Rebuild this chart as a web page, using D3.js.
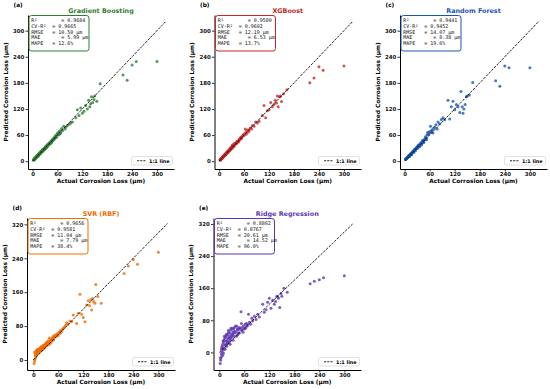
<!DOCTYPE html>
<html>
<head>
<meta charset="utf-8">
<script src="https://cdn.jsdelivr.net/npm/d3@7"></script>
<style>
  body { margin: 0; background: #fff; }
  text { font-family: "DejaVu Sans", sans-serif; }
</style>
</head>
<body>
<svg id="chart" width="550" height="389"></svg>
<script>
// shared test set (actual corrosion loss, µm)
const actual = [
  2, 3, 4, 5, 5, 6, 7, 8, 8, 9,
  10, 10, 11, 12, 13, 14, 15, 15, 16, 17,
  18, 19, 20, 20, 21, 22, 23, 24, 25, 26,
  27, 28, 29, 30, 31, 32, 33, 34, 35, 36,
  38, 40, 42, 44, 45, 47, 48, 50, 52, 54,
  55, 57, 58, 60, 62, 63, 65, 66, 68, 70,
  72, 75, 78, 80, 84, 88, 92, 96, 104, 108,
  112, 116, 120, 124, 128, 132, 135, 138, 140, 142,
  145, 148, 150, 155, 163, 218, 228, 240, 250, 300,
  3, 6, 9, 12, 14, 17, 19, 22, 24, 26,
  28, 31, 33, 36, 39, 41, 43, 46, 49, 53
];

const predGB = [
  3, 2, 5, 4, 7, 6, 8, 7, 10, 9,
  12, 9, 13, 11, 15, 13, 17, 14, 18, 16,
  20, 18, 22, 19, 23, 21, 25, 23, 27, 24,
  29, 27, 30, 28, 33, 30, 35, 32, 37, 34,
  40, 38, 44, 41, 43, 49, 46, 52, 50, 57,
  53, 60, 55, 64, 60, 67, 62, 70, 65, 75,
  70, 80, 74, 78, 82, 85, 88, 90, 100, 118,
  105, 122, 110, 115, 128, 120, 140, 125, 132, 148,
  135, 142, 150, 138, 178, 198, 186, 221, 229, 229,
  4, 5, 10, 13, 12, 18, 18, 23, 22, 27,
  27, 32, 31, 37, 38, 42, 41, 47, 48, 54
];

const predXGB = [
  4, 3, 3, 6, 5, 7, 6, 9, 8, 10,
  11, 12, 10, 13, 14, 13, 16, 17, 15, 19,
  17, 21, 19, 22, 20, 24, 22, 26, 24, 28,
  26, 30, 31, 33, 30, 37, 34, 36, 33, 40,
  37, 42, 41, 45, 44, 46, 50, 49, 55, 53,
  56, 58, 61, 59, 64, 74, 62, 70, 66, 72,
  69, 76, 74, 82, 80, 90, 88, 92, 105, 128,
  100, 116, 118, 135, 125, 130, 140, 134, 150, 125,
  148, 150, 137, 155, 164, 180, 191, 217, 209, 219,
  2, 7, 8, 14, 13, 16, 20, 21, 25, 25,
  30, 29, 35, 35, 41, 40, 45, 44, 51, 52
];

const predRF = [
  5, 4, 6, 6, 7, 8, 9, 10, 9, 11,
  12, 13, 12, 14, 15, 16, 17, 16, 18, 19,
  20, 21, 22, 21, 23, 24, 25, 26, 27, 28,
  29, 30, 31, 32, 33, 35, 34, 37, 38, 36,
  40, 43, 41, 46, 45, 48, 50, 56, 53, 60,
  66, 62, 64, 68, 80, 67, 70, 72, 65, 76,
  78, 84, 74, 90, 86, 96, 100, 95, 140, 97,
  125, 138, 118, 130, 125, 112, 160, 125, 110, 120,
  130, 148, 150, 152, 181, 185, 172, 219, 215, 215,
  5, 7, 10, 11, 16, 15, 21, 20, 27, 24,
  31, 29, 36, 33, 42, 37, 48, 43, 52, 49
];

const predSVR = [
  -8, -3, 2, 10, 15, 6, 20, 12, 22, 14,
  18, 25, 20, 16, 24, 22, 28, 20, 26, 24,
  30, 25, 27, 32, 28, 30, 26, 35, 32, 31,
  36, 33, 38, 35, 40, 37, 42, 36, 45, 40,
  52, 44, 48, 50, 46, 55, 52, 58, 54, 56,
  60, 57, 62, 58, 64, 66, 63, 70, 68, 72,
  75, 78, 82, 88, 85, 92, 90, 106, 86, 110,
  155, 108, 100, 90, 130, 140, 128, 142, 118, 145,
  138, 134, 178, 150, 134, 204, 222, 237, 226, 254,
  18, 12, 24, 20, 18, 27, 22, 30, 26, 33,
  29, 38, 34, 40, 37, 46, 41, 50, 47, 56
];

const predRidge = [
  -28, -20, -12, -5, 8, 0, 15, -8, 20, 5,
  25, -2, 30, 10, 35, 18, 20, 38, 28, 42,
  15, 30, 45, 22, 36, 50, 25, 40, 48, 30,
  35, 55, 42, 38, 60, 45, 50, 58, 40, 62,
  48, 52, 65, 44, 56, 60, 48, 58, 101, 55,
  62, 50, 66, 58, 70, 60, 72, 65, 68, 95,
  75, 70, 85, 78, 90, 82, 95, 88, 120, 100,
  106, 125, 135, 110, 130, 120, 127, 140, 138, 135,
  112, 147, 140, 160, 150, 171, 177, 181, 186, 191,
  -15, 12, 28, 40, 8, 45, 25, 55, 35, 20,
  60, 45, 30, 52, 66, 40, 58, 48, 62, 72
];

const modelNames = ["Gradient Boosting", "XGBoost", "Random Forest", "SVR (RBF)", "Ridge Regression"];
const panelTags = ["(a)", "(b)", "(c)", "(d)", "(e)"];
const r2 = ["0.9684", "0.9580", "0.9441", "0.9656", "0.8802"];
const cvR2 = ["0.9665", "0.9602", "0.9452", "0.9581", "0.8767"];
const rmse = ["10.50", "12.19", "14.07", "11.04", "20.61"];
const mae = ["5.99", "6.53", "8.38", "7.79", "14.52"];
const mape = ["12.6", "13.7", "19.6", "38.4", "96.0"];
const xTicks = [0, 60, 120, 180, 240, 300];
const yTicksTop = [0, 60, 120, 180, 240, 300];
const yTicksBottom = [0, 80, 160, 240, 320];
const lineEnds = [0, 322];

const preds = [predGB, predXGB, predRF, predSVR, predRidge];
const colors = ["#2e7d32", "#c62828", "#1a56b0", "#ef6c00", "#5e35b1"];

// axes boxes and limits
const boxes = [
  {left: 28, right: 174, top: 15, bottom: 169, xd: [-11, 341], yd: [-18, 336], yt: yTicksTop},
  {left: 214.5, right: 361, top: 15, bottom: 169, xd: [-11, 341], yd: [-18, 336], yt: yTicksTop},
  {left: 400, right: 547, top: 15, bottom: 169, xd: [-11, 341], yd: [-18, 336], yt: yTicksTop},
  {left: 27, right: 175, top: 218, bottom: 370, xd: [-15, 340], yd: [-23.6, 335], yt: yTicksBottom},
  {left: 213.5, right: 361, top: 218, bottom: 370, xd: [-14, 340], yd: [-44, 335], yt: yTicksBottom}
];

const svg = d3.select("#chart");

function drawPanel(i) {
  const b = boxes[i];
  const color = colors[i];
  const x = d3.scaleLinear().domain(b.xd).range([b.left, b.right]);
  const y = d3.scaleLinear().domain(b.yd).range([b.bottom, b.top]);
  const g = svg.append("g");

  // axes
  const xa = g.append("g")
    .attr("transform", `translate(0,${b.bottom})`)
    .call(d3.axisBottom(x).tickValues(xTicks).tickSize(2.5).tickSizeOuter(0).tickPadding(1));
  const ya = g.append("g")
    .attr("transform", `translate(${b.left},0)`)
    .call(d3.axisLeft(y).tickValues(b.yt).tickSize(2.5).tickSizeOuter(0).tickPadding(1.2));
  [xa, ya].forEach(a => {
    a.selectAll("path").attr("stroke", "#000").attr("stroke-width", 1);
    a.selectAll("line").attr("stroke", "#000").attr("stroke-width", 0.8);
    a.selectAll("text")
      .style("font-size", "5.4px")
      .style("font-weight", "bold")
      .attr("fill", "#111");
  });

  // points
  const pts = actual.map((a, k) => [a, preds[i][k]]);
  g.append("g").selectAll("circle")
    .data(pts)
    .join("circle")
    .attr("cx", d => x(d[0]))
    .attr("cy", d => y(d[1]))
    .attr("r", 1.5)
    .attr("fill", color)
    .attr("fill-opacity", 0.8);

  // 1:1 line
  g.append("line")
    .attr("x1", x(lineEnds[0])).attr("y1", y(lineEnds[0]))
    .attr("x2", x(lineEnds[1])).attr("y2", y(lineEnds[1]))
    .attr("stroke", "#000")
    .attr("stroke-width", 0.85)
    .attr("stroke-dasharray", "2.6,1.2");

  // titles
  g.append("text")
    .attr("x", (b.left + b.right) / 2)
    .attr("y", b.top - 2.5)
    .attr("text-anchor", "middle")
    .style("font-size", "6.4px")
    .style("font-weight", "bold")
    .attr("fill", color)
    .text(modelNames[i]);

  g.append("text")
    .attr("x", b.left - 14.5)
    .attr("y", b.top - 8)
    .style("font-size", "5.8px")
    .style("font-weight", "bold")
    .text(panelTags[i]);

  g.append("text")
    .attr("x", (b.left + b.right) / 2)
    .attr("y", b.bottom + 14)
    .attr("text-anchor", "middle")
    .style("font-size", "5.8px")
    .style("font-weight", "bold")
    .text("Actual Corrosion Loss (µm)");

  g.append("text")
    .attr("transform", `translate(${b.left - 20.5},${(b.top + b.bottom) / 2}) rotate(-90)`)
    .attr("text-anchor", "middle")
    .style("font-size", "5.8px")
    .style("font-weight", "bold")
    .text("Predicted Corrosion Loss (µm)");

  // metrics box
  const bx = b.left + 1, by = b.top + 0.5;
  g.append("rect")
    .attr("x", bx).attr("y", by)
    .attr("width", 60).attr("height", 35.5)
    .attr("rx", 2.5)
    .attr("fill", "#fff")
    .attr("fill-opacity", 0.92)
    .attr("stroke", color)
    .attr("stroke-width", 1);

  const lines = [
    `R²        = ${r2[i]}`,
    `CV-R²  = ${cvR2[i]}`,
    `RMSE   = ${rmse[i]} µm`,
    `MAE       = ${mae[i]} µm`,
    `MAPE   = ${mape[i]}%`
  ];
  lines.forEach((s, k) => {
    g.append("text")
      .attr("x", bx + 2.2)
      .attr("y", by + 6.9 + k * 5.65)
      .style("font-family", "'DejaVu Sans Mono', monospace")
      .style("font-size", "5px")
      .style("white-space", "pre")
      .attr("fill", "#111")
      .text(s);
  });

  // legend
  const lx = b.right - 42.5, ly = b.bottom - 12.5;
  g.append("rect")
    .attr("x", lx).attr("y", ly)
    .attr("width", 41).attr("height", 8.5)
    .attr("rx", 1.5)
    .attr("fill", "#fff")
    .attr("stroke", "#ccc")
    .attr("stroke-width", 0.6);
  g.append("line")
    .attr("x1", lx + 5.5).attr("x2", lx + 14)
    .attr("y1", ly + 4.25).attr("y2", ly + 4.25)
    .attr("stroke", "#000")
    .attr("stroke-width", 0.85)
    .attr("stroke-dasharray", "2.2,1");
  g.append("text")
    .attr("x", lx + 17.5)
    .attr("y", ly + 6)
    .style("font-size", "4.9px")
    .style("font-weight", "bold")
    .text("1:1 line");
}

for (let i = 0; i < modelNames.length; i++) drawPanel(i);
</script>
</body>
</html>
